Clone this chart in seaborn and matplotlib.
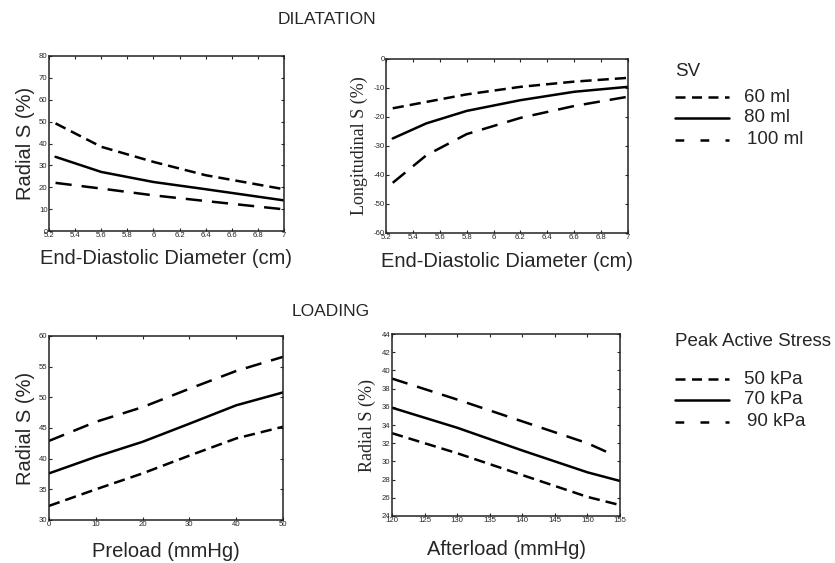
import numpy as np
import pandas as pd
import matplotlib
matplotlib.use("Agg")
import matplotlib.pyplot as plt
from matplotlib.lines import Line2D
import seaborn as sns

sns.set_style("ticks")
plt.rcParams['font.family'] = ['Liberation Sans', 'DejaVu Sans']

# ---------------- data ----------------
edd_x = [5.25, 5.6, 6.0, 6.4, 7.0]
radial_60 = [49.2, 38.5, 31.6, 25.5, 19.1]
radial_80 = [33.9, 27.0, 22.4, 19.1, 14.0]
radial_100 = [22.0, 19.4, 16.3, 13.7, 9.9]

edd_x2 = [5.25, 5.5, 5.8, 6.2, 6.6, 7.0]
long_60 = [-17.0, -14.8, -12.2, -9.6, -7.8, -6.5]
long_80 = [-27.4, -22.2, -17.9, -14.2, -11.3, -9.6]
long_100 = [-42.7, -33.2, -25.9, -20.3, -16.2, -13.0]

preload_x = [0, 10, 20, 30, 40, 50]
pre_50 = [32.3, 35.0, 37.6, 40.5, 43.3, 45.2]
pre_70 = [37.6, 40.3, 42.75, 45.7, 48.7, 50.8]
pre_90 = [42.9, 46.0, 48.4, 51.4, 54.3, 56.6]

after_x = [120, 130, 140, 150, 155]
after_50 = [33.1, 30.9, 28.5, 26.1, 25.2]
after_70 = [35.9, 33.7, 31.2, 28.8, 27.85]
after_90 = [39.1, 36.8, 34.4, 32.0, 30.9]
after_90_x = [120, 130, 140, 150, 153.4]

sv_labels = ['60 ml', '80 ml', '100 ml']
stress_labels = ['50 kPa', '70 kPa', '90 kPa']

short_d = (4.5, 2.4)
long_d = (6.5, 4.0)
solid_d = ""

def long_df(xs_list, ys_list, names):
    frames = []
    for xs, ys, n in zip(xs_list, ys_list, names):
        frames.append(pd.DataFrame({'x': xs, 'y': ys, 'series': n}))
    return pd.concat(frames, ignore_index=True)

W, H = 835, 563
fig = plt.figure(figsize=(W / 100, H / 100), dpi=100)

def ax_at(l, t, r, b):
    return fig.add_axes([l / W, 1 - b / H, (r - l) / W, (b - t) / H])

lw = 1.8
tick_fs = 5.6
sans_fs = 14.5
serif_fs = 13

def style_ax(ax, xlim, ylim, xticks, yticks, xlab, ylab, yserif=False, xpad=7):
    ax.set_xlim(*xlim)
    ax.set_ylim(*ylim)
    ax.set_xticks(xticks)
    ax.set_yticks(yticks)
    ax.set_xticklabels([('%g' % v) for v in xticks], fontsize=tick_fs)
    ax.set_yticklabels([('%g' % v) for v in yticks], fontsize=tick_fs)
    ax.tick_params(direction='in', length=2.5, width=0.8, pad=1,
                   top=True, right=True)
    for s in ax.spines.values():
        s.set_visible(True)
        s.set_linewidth(1.1)
        s.set_color('#222222')
    ax.set_xlabel(xlab, fontsize=sans_fs, labelpad=xpad)
    if yserif:
        ax.set_ylabel(ylab, fontsize=serif_fs, labelpad=4,
                      family=['Liberation Serif', 'DejaVu Serif'])
    else:
        ax.set_ylabel(ylab, fontsize=sans_fs, labelpad=3)

def draw(ax, df, dashes):
    sns.lineplot(data=df, x='x', y='y', style='series', dashes=dashes,
                 color='black', linewidth=lw, legend=False, ax=ax,
                 estimator=None, sort=False)

# Panel 1
ax1 = ax_at(49, 56, 284, 231)
df1 = long_df([edd_x] * 3, [radial_60, radial_80, radial_100], sv_labels)
draw(ax1, df1, {'60 ml': short_d, '80 ml': solid_d, '100 ml': long_d})
style_ax(ax1, (5.2, 7), (0, 80), [5.2, 5.4, 5.6, 5.8, 6, 6.2, 6.4, 6.6, 6.8, 7],
         list(range(0, 81, 10)), 'End-Diastolic Diameter (cm)', 'Radial S (%)',
         xpad=7)

# Panel 2
ax2 = ax_at(386, 59, 628, 233)
df2 = long_df([edd_x2] * 3, [long_60, long_80, long_100], sv_labels)
draw(ax2, df2, {'60 ml': short_d, '80 ml': solid_d, '100 ml': long_d})
style_ax(ax2, (5.2, 7), (-60, 0), [5.2, 5.4, 5.6, 5.8, 6, 6.2, 6.4, 6.6, 6.8, 7],
         list(range(-60, 1, 10)), 'End-Diastolic Diameter (cm)',
         'Longitudinal S (%)', yserif=True, xpad=8)

# Panel 3
ax3 = ax_at(49, 336, 283, 520)
df3 = long_df([preload_x] * 3, [pre_50, pre_70, pre_90], stress_labels)
draw(ax3, df3, {'50 kPa': short_d, '70 kPa': solid_d, '90 kPa': long_d})
style_ax(ax3, (0, 50), (30, 60), [0, 10, 20, 30, 40, 50],
         list(range(30, 61, 5)), 'Preload (mmHg)', 'Radial S (%)', xpad=10)

# Panel 4
ax4 = ax_at(392, 334, 620, 516)
df4 = long_df([after_x, after_x, after_90_x], [after_50, after_70, after_90],
              stress_labels)
draw(ax4, df4, {'50 kPa': short_d, '70 kPa': solid_d, '90 kPa': long_d})
style_ax(ax4, (120, 155), (24, 44), [120, 125, 130, 135, 140, 145, 150, 155],
         list(range(24, 45, 2)), 'Afterload (mmHg)', 'Radial S (%)', yserif=True,
         xpad=11)

# Section titles
fig.text(327 / W, 1 - 20 / H, 'DILATATION', ha='center', va='center', fontsize=12.5)
fig.text(331 / W, 1 - 311 / H, 'LOADING', ha='center', va='center', fontsize=12.5)

# Legends (drawn as figure text + legend lines)
leg_fs = 13.5

def manual_legend(title, title_y, rows_y, labels, label_x, styles):
    fig.text(675 / W, 1 - title_y / H, title, ha='left', va='center', fontsize=leg_fs)
    for y, lab, lx, ds in zip(rows_y, labels, label_x, styles):
        ln = Line2D([675 / W, 729 / W], [1 - y / H, 1 - y / H], transform=fig.transFigure,
                    color='black', linewidth=lw)
        if ds:
            ln.set_dashes(ds)
        fig.add_artist(ln)
        fig.text(lx / W, 1 - y / H, lab, ha='left', va='center', fontsize=leg_fs)

manual_legend('SV', 72, [97, 118, 140], sv_labels, [744, 744, 747],
              [(4.0, 2.6), None, (3.5, 6.5)])
manual_legend('Peak Active Stress', 342, [379, 400, 422], stress_labels,
              [744, 744, 747], [(4.0, 2.6), None, (3.5, 6.5)])

fig.savefig('out.png', dpi=100)
